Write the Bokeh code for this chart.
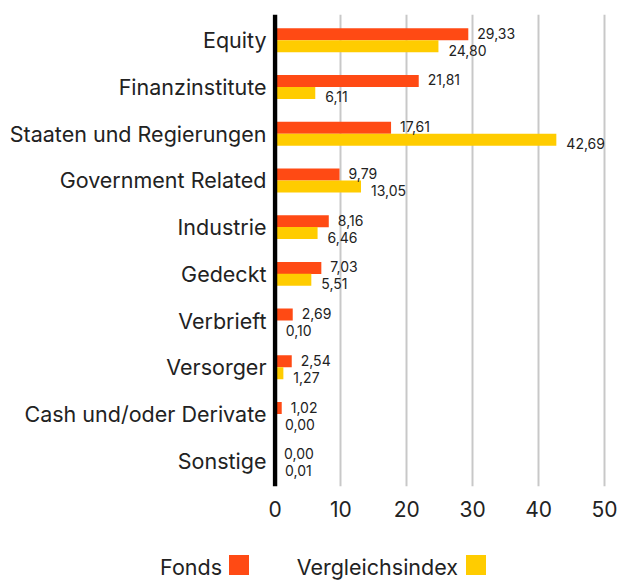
from bokeh.plotting import figure
from bokeh.models import ColumnDataSource, FactorRange, Range1d, Span, FixedTicker, Div
from bokeh.transform import dodge
from bokeh.layouts import column
from bokeh.embed import file_html
from bokeh.resources import INLINE
from bokeh.core.properties import value

FONT = "Inter"

categories = ["Equity", "Finanzinstitute", "Staaten und Regierungen", "Government Related",
              "Industrie", "Gedeckt", "Verbrieft", "Versorger", "Cash und/oder Derivate", "Sonstige"]
fonds = [29.33, 21.81, 17.61, 9.79, 8.16, 7.03, 2.69, 2.54, 1.02, 0.00]
vergleich = [24.80, 6.11, 42.69, 13.05, 6.46, 5.51, 0.10, 1.27, 0.00, 0.01]
x_ticks = [0, 10, 20, 30, 40, 50]
series_names = ["Fonds", "Vergleichsindex"]
series_colors = ["#ff4a14", "#ffcc00"]


def fmt(v):
    return f"{v:.2f}".replace(".", ",")


src = ColumnDataSource(dict(
    cat=categories,
    fonds=fonds,
    vergleich=vergleich,
    fonds_lbl=[fmt(v) for v in fonds],
    vergleich_lbl=[fmt(v) for v in vergleich],
))

p = figure(width=617, height=540, output_backend="svg", toolbar_location=None,
           y_range=FactorRange(factors=list(reversed(categories)), range_padding=0.05,
                               range_padding_units="absolute"),
           x_range=Range1d(-0.38, 51.97),
           min_border_left=272, min_border_right=0, min_border_top=14, min_border_bottom=54)
p.outline_line_color = None
p.background_fill_color = "white"
p.border_fill_color = "white"

p.hbar(y=dodge("cat", 0.128, range=p.y_range), left=0, right="fonds", height=0.257,
       color=series_colors[0], line_color=None, source=src)
p.hbar(y=dodge("cat", -0.128, range=p.y_range), left=0, right="vergleich", height=0.257,
       color=series_colors[1], line_color=None, source=src)

p.text(x="fonds", y=dodge("cat", 0.128, range=p.y_range), text="fonds_lbl", source=src,
       x_offset=9, y_offset=-1, text_baseline="middle", text_align="left",
       text_font=value(FONT), text_font_size="14px", text_color="#222222")
p.text(x="vergleich", y=dodge("cat", -0.128, range=p.y_range), text="vergleich_lbl", source=src,
       x_offset=10, y_offset=4, text_baseline="middle", text_align="left",
       text_font=value(FONT), text_font_size="14px", text_color="#222222")

p.add_layout(Span(location=0, dimension="height", line_color="black", line_width=4.5))

p.ygrid.grid_line_color = None
p.xgrid.ticker = FixedTicker(ticks=x_ticks[1:])
p.xgrid.grid_line_color = "#c8c8c8"
p.xgrid.grid_line_width = 2

p.xaxis.ticker = FixedTicker(ticks=x_ticks)
p.xaxis.axis_line_color = None
p.xaxis.major_tick_line_color = None
p.xaxis.minor_tick_line_color = None
p.xaxis.major_label_text_font = FONT
p.xaxis.major_label_text_font_size = "21px"
p.xaxis.major_label_text_color = "#222222"
p.xaxis.major_label_standoff = 8

p.yaxis.axis_line_color = None
p.yaxis.major_tick_line_color = None
p.yaxis.minor_tick_line_color = None
p.yaxis.major_label_text_font = FONT
p.yaxis.major_label_text_font_size = "21.5px"
p.yaxis.major_label_text_color = "#222222"
p.yaxis.major_label_standoff = 0

# legend: label text followed by a colour square
legend_text_right = [222, 458]
legend_square_left = [229, 466]
parts = []
for name, color, tx, sx in zip(series_names, series_colors, legend_text_right, legend_square_left):
    parts.append(
        f'<span style="position:absolute;right:{617 - tx}px;top:14px;line-height:26px;'
        f'white-space:nowrap;">{name}</span>'
        f'<span style="position:absolute;left:{sx}px;top:15px;width:20px;height:20px;'
        f'background:{color};"></span>'
    )
legend_html = (
    f'<div style="position:relative;width:617px;height:41px;font-family:{FONT};'
    f'font-size:21.5px;color:#222222;background:white;">' + "".join(parts) + "</div>"
)
legend = Div(text=legend_html, width=617, height=41, margin=(0, 0, 0, 0))

layout = column(p, legend, spacing=0)
open("out.html", "w").write(file_html(layout, INLINE))
